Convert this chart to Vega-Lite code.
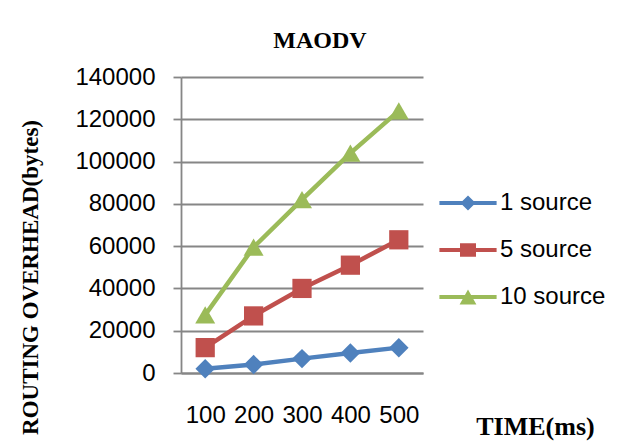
{
  "$schema": "https://vega.github.io/schema/vega-lite/v6.json",
  "width": 242,
  "height": 296,
  "autosize": {"type": "none"},
  "padding": {"left": 181, "top": 77, "right": 198, "bottom": 68},
  "background": "white",
  "title": {
    "text": "MAODV",
    "font": "Liberation Serif",
    "fontSize": 24,
    "fontWeight": "bold",
    "color": "black",
    "anchor": "middle",
    "frame": "group",
    "baseline": "alphabetic",
    "dx": 18,
    "offset": -7
  },
  "data": {
    "values": [
      {"time": "100", "series": "1 source", "bytes": 2000},
      {"time": "200", "series": "1 source", "bytes": 4000},
      {"time": "300", "series": "1 source", "bytes": 6800},
      {"time": "400", "series": "1 source", "bytes": 9500},
      {"time": "500", "series": "1 source", "bytes": 12000},
      {"time": "100", "series": "5 source", "bytes": 12000},
      {"time": "200", "series": "5 source", "bytes": 27000},
      {"time": "300", "series": "5 source", "bytes": 40000},
      {"time": "400", "series": "5 source", "bytes": 51000},
      {"time": "500", "series": "5 source", "bytes": 63000},
      {"time": "100", "series": "10 source", "bytes": 27500},
      {"time": "200", "series": "10 source", "bytes": 59500},
      {"time": "300", "series": "10 source", "bytes": 82000},
      {"time": "400", "series": "10 source", "bytes": 104000},
      {"time": "500", "series": "10 source", "bytes": 124000}
    ]
  },
  "encoding": {
    "x": {
      "field": "time",
      "type": "ordinal",
      "sort": null,
      "scale": {"type": "point", "padding": 0.5},
      "axis": {
        "title": "TIME(ms)",
        "labelAngle": 0,
        "labelFont": "Liberation Sans",
        "labelFontSize": 24,
        "labelColor": "black",
        "labelBaseline": "top",
        "labelPadding": 30,
        "ticks": false,
        "tickSize": 0,
        "domainColor": "#868686",
        "domainWidth": 1.8,
        "grid": false,
        "titleFont": "Liberation Serif",
        "titleFontSize": 26,
        "titleFontWeight": "bold",
        "titleColor": "black",
        "titleX": 354,
        "titleY": 61,
        "titleAlign": "center",
        "titleBaseline": "alphabetic"
      }
    },
    "y": {
      "field": "bytes",
      "type": "quantitative",
      "scale": {"domain": [0, 140000], "nice": false},
      "axis": {
        "title": "ROUTING OVERHEAD(bytes)",
        "values": [0, 20000, 40000, 60000, 80000, 100000, 120000, 140000],
        "format": "d",
        "labelFont": "Liberation Sans",
        "labelFontSize": 24,
        "labelColor": "black",
        "labelPadding": 18,
        "tickSize": 8,
        "tickColor": "#868686",
        "tickWidth": 1.8,
        "domainColor": "#868686",
        "domainWidth": 1.8,
        "grid": true,
        "gridColor": "#868686",
        "gridWidth": 1.8,
        "titleFont": "Liberation Serif",
        "titleFontSize": 23,
        "titleFontWeight": "bold",
        "titleColor": "black",
        "titleAngle": 270,
        "titleX": -151,
        "titleY": 200,
        "titleAlign": "center",
        "titleBaseline": "middle"
      }
    },
    "color": {
      "field": "series",
      "type": "nominal",
      "scale": {
        "domain": ["1 source", "5 source", "10 source"],
        "range": ["#4F81BD", "#C0504D", "#9BBB59"]
      },
      "legend": {
        "orient": "none",
        "legendX": 267,
        "legendY": 106,
        "title": null,
        "padding": 0,
        "symbolSize": 1600,
        "rowPadding": 15,
        "labelOffset": 12,
        "labelFont": "Liberation Sans",
        "labelFontSize": 24,
        "labelColor": "black",
        "encode": {
          "symbols": {
            "update": {
              "shape": {
                "signal": "datum.value === '1 source' ? 'M-1.43,-0.1H1.43V0.1H-1.43Z M0,-0.38L0.38,0L0,0.38L-0.38,0Z' : datum.value === '5 source' ? 'M-1.43,-0.1H1.43V0.1H-1.43Z M-0.4,-0.34H0.4V0.34H-0.4Z' : 'M-1.43,-0.1H1.43V0.1H-1.43Z M0,-0.38L0.42,0.38H-0.42Z'"
              },
              "fill": {"signal": "scale('color', datum.value)"},
              "stroke": {"value": "transparent"},
              "strokeWidth": {"value": 0},
              "opacity": {"value": 1}
            }
          }
        }
      }
    }
  },
  "layer": [
    {
      "mark": {"type": "line", "strokeWidth": 4.5}
    },
    {
      "transform": [{"filter": "datum.series === '1 source'"}],
      "mark": {"type": "point", "shape": "diamond", "filled": true, "opacity": 1, "size": 380, "strokeWidth": 0}
    },
    {
      "transform": [{"filter": "datum.series === '5 source'"}],
      "mark": {"type": "point", "shape": "square", "filled": true, "opacity": 1, "size": 370, "strokeWidth": 0}
    },
    {
      "transform": [{"filter": "datum.series === '10 source'"}],
      "mark": {"type": "point", "shape": "triangle-up", "filled": true, "opacity": 1, "size": 400, "strokeWidth": 0}
    }
  ],
  "config": {
    "view": {"stroke": null}
  }
}
